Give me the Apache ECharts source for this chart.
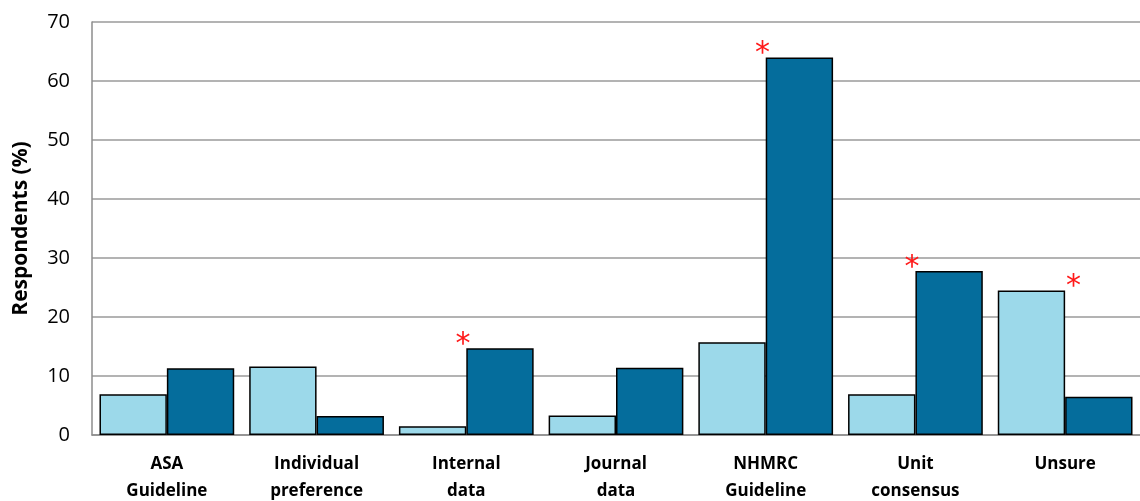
<!DOCTYPE html>
<html>
<head>
<meta charset="UTF-8">
<title>Respondents</title>
<style>
html, body { margin: 0; padding: 0; background: #fff; }
#chart { width: 1140px; height: 501px; }
</style>
</head>
<body>
<div id="chart"></div>
<script src="https://cdn.jsdelivr.net/npm/echarts@6/dist/echarts.min.js"></script>
<script>
var categories = ['ASA\nGuideline', 'Individual\npreference', 'Internal\ndata', 'Journal\ndata', 'NHMRC\nGuideline', 'Unit\nconsensus', 'Unsure'];
var lightValues = [6.9, 11.6, 1.5, 3.3, 15.7, 6.9, 24.5];
var darkValues = [11.3, 3.2, 14.7, 11.4, 64.0, 27.8, 6.5];
// which bar carries the red asterisk
var lightStar = [false, false, false, false, false, false, true];
var darkStar = [false, false, true, false, true, true, false];
var yTicks = [0, 10, 20, 30, 40, 50, 60, 70];

var fontName = 'Open Sans';

function starred(values, flags, dx) {
  return values.map(function (v, i) {
    if (!flags[i]) return v;
    return {
      value: v,
      label: {
        show: true,
        formatter: '*',
        position: 'top',
        offset: [dx, 17],
        color: '#ff1a1a',
        fontSize: 30,
        fontFamily: 'DejaVu Sans'
      }
    };
  });
}

var chart = echarts.init(document.getElementById('chart'));
chart.setOption({
  animation: false,
  grid: { left: 92, right: 0, top: 22, bottom: 66, outerBoundsMode: 'none', containLabel: false },
  xAxis: {
    type: 'category',
    data: categories,
    axisLine: { lineStyle: { color: '#8c8c8c', width: 1.5 } },
    axisTick: { show: false },
    axisLabel: {
      color: '#000',
      fontFamily: fontName,
      fontWeight: 'bold',
      fontSize: 17,
      lineHeight: 27,
      margin: 16,
      verticalAlign: 'top',
      interval: 0
    }
  },
  yAxis: {
    type: 'value',
    min: yTicks[0],
    max: yTicks[yTicks.length - 1],
    interval: 10,
    name: 'Respondents (%)',
    nameLocation: 'middle',
    nameGap: 60,
    nameTextStyle: { color: '#000', fontFamily: fontName, fontWeight: 'bold', fontSize: 21 },
    axisLine: { show: true, lineStyle: { color: '#8c8c8c', width: 1.5 } },
    axisTick: { show: false },
    splitLine: { lineStyle: { color: '#9a9a9a', width: 1.5 } },
    axisLabel: { color: '#000', fontFamily: fontName, fontSize: 20, margin: 22 }
  },
  series: [
    {
      type: 'bar',
      data: starred(lightValues, lightStar, 42),
      barGap: '0%',
      barCategoryGap: '10%',
      itemStyle: { color: '#9cd9ea', borderColor: '#000', borderWidth: 1.5 }
    },
    {
      type: 'bar',
      data: starred(darkValues, darkStar, -37),
      itemStyle: { color: '#056d9c', borderColor: '#000', borderWidth: 1.5 }
    }
  ]
});
</script>
</body>
</html>
